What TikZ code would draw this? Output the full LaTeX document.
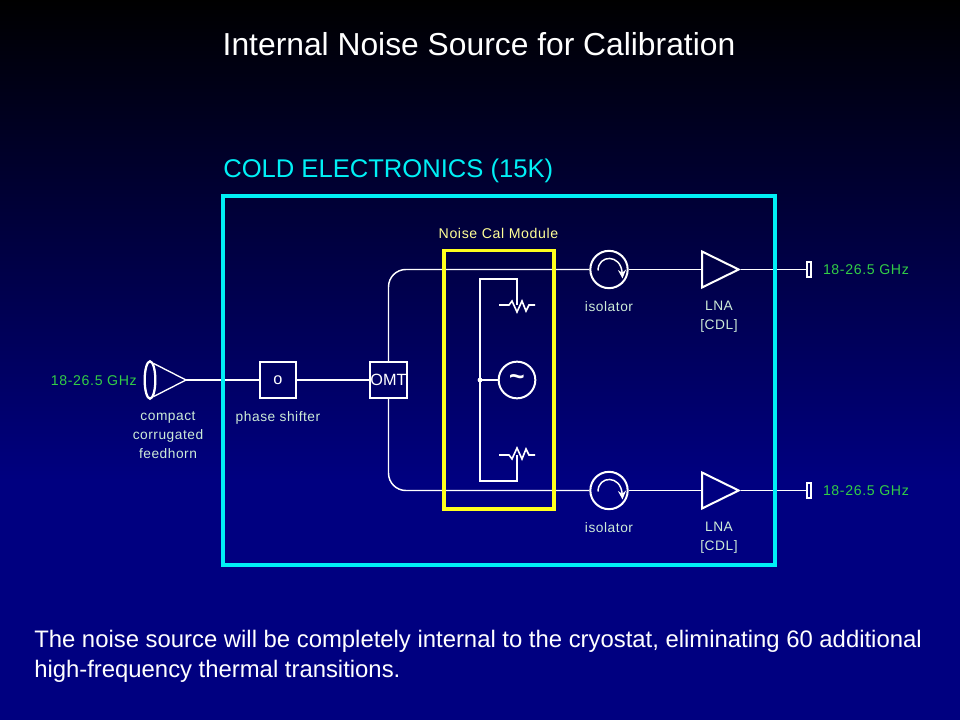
\documentclass[tikz,border=0pt]{standalone}
\usepackage{fontspec}
\setmainfont{Liberation Sans}
\usetikzlibrary{shapes.geometric, positioning, calc, arrows.meta}
\definecolor{navybottom}{RGB}{0,0,128}
\definecolor{coldcyan}{RGB}{0,240,245}
\definecolor{calyellow}{RGB}{255,255,30}
\definecolor{calpale}{RGB}{255,255,150}
\definecolor{bandgreen}{RGB}{50,205,70}
\definecolor{partpale}{RGB}{205,235,215}
\begin{document}
\begin{tikzpicture}[
    x=0.75pt, y=-0.75pt,
    node distance=6pt and 8pt,
    wire/.style={draw=white, line width=1.1pt},
    partbox/.style={draw=white, line width=1.5pt, minimum width=27pt, minimum height=27pt,
      inner sep=0pt, font=\fontsize{12.2}{12}\selectfont, text=white},
    isolatorc/.style={circle, draw=white, line width=1.5pt, minimum size=28pt, inner sep=0pt},
    lna/.style={isosceles triangle, isosceles triangle stretches=true, draw=white, line width=1.5pt,
      minimum width=27pt, minimum height=27.5pt, inner sep=0pt, anchor=west},
    portbox/.style={draw=white, line width=1.5pt, minimum width=3.5pt, minimum height=11.5pt, inner sep=0pt},
    partlabel/.style={align=center, text=partpale, inner sep=0pt,
      font=\fontsize{10.3}{14.2}\selectfont\addfontfeatures{LetterSpace=3.9}},
    bandlabel/.style={text=bandgreen, inner sep=0pt, font=\fontsize{10.6}{13}\selectfont\addfontfeatures{LetterSpace=4.5}},
    isolatorarc/.pic={
      \draw[white, line width=1.1pt, -{Stealth[length=6.5pt,width=6pt]}] (-11,1) .. controls (-11,-15) and (12,-16) .. (13.5,9);
    },
    resistorzig/.pic={
      \draw[white, line width=1.2pt] (-18,0) -- (-8,0) -- (-5,-4) -- (0,7) -- (5,-4) -- (9,6) -- (12,0) -- (18,0);
    }
]
\shade[top color=black, bottom color=navybottom] (0,0) rectangle (960,480);
\fill[navybottom] (0,479) rectangle (960,720);
\useasboundingbox (0,0) rectangle (960,720);

\node[text=white, font=\fontsize{23.85}{26}\selectfont, inner sep=0pt] (title) at (479,44) {Internal Noise Source for Calibration};
\node[text=coldcyan, font=\fontsize{19.2}{22}\selectfont, inner sep=0pt, anchor=west] (coldtitle) at (223,171) {COLD ELECTRONICS (15K)};
\node[text=white, font=\fontsize{17.9}{22.5}\selectfont, inner sep=0pt, anchor=north west, align=left] (notes) at (34,630)
  {The noise source will be completely internal to the cryostat, eliminating 60 additional\\high-frequency thermal transitions.};

% parts on the signal path
\node[partbox] (shifter) at (278,380) {o};
\node[partbox] (omt) at (388.5,380) {OMT};
\node[isolatorc] (isoA) at (609,269.5) {};
\node[isolatorc] (isoB) at (609,490.5) {};
\node[lna] (lnaA) at (701,269.5) {};
\node[lna] (lnaB) at (701,490.5) {};
\node[portbox] (portA) at (809,269.5) {};
\node[portbox] (portB) at (809,490.5) {};
\pic at (isoA) {isolatorarc};
\pic at (isoB) {isolatorarc};

% feedhorn
\node[ellipse, draw=white, line width=1.7pt, minimum width=8pt, minimum height=28pt, inner sep=0pt] (hornmouth) at (150,380) {};
\coordinate (horntip) at (186,380);
\draw[white, line width=1pt] (hornmouth.78) -- (horntip) -- (hornmouth.-78);

% cal module
\node[circle, draw=white, line width=1.5pt, minimum size=27.5pt, inner sep=0pt, text=white,
  font=\bfseries\fontsize{20}{20}\selectfont] (noise) at (517,380) {\raisebox{-3.5pt}{\textasciitilde}};
\coordinate (junction) at (480,380);
\coordinate (resA) at (517,305);
\coordinate (resB) at (517,455);
\pic at (resA) {resistorzig};
\pic[yscale=-1] at (resB) {resistorzig};
\draw[wire, line width=1.3pt] (resA) |- (480,279) -- (480,481) -| (resB);
\draw[wire, line width=1.3pt] (junction) -- (noise);
\fill[white] (junction) circle (2.4);

\draw[wire] (horntip) -- (shifter);
\draw[wire] (shifter) -- (omt);
\draw[wire, rounded corners=13pt] (omt.north) |- (isoA.west);
\draw[wire, rounded corners=13pt] (omt.south) |- (isoB.west);
\draw[wire] (isoA) -- (lnaA.west);
\draw[wire] (isoB) -- (lnaB.west);
\draw[wire] (lnaA.east) -- (portA);
\draw[wire] (lnaB.east) -- (portB);

\draw[calyellow, line width=2.6pt] (444,250.5) rectangle (554,509);
\draw[coldcyan, line width=2.8pt] (223,196) rectangle (775,565);

% labels
\node[text=calpale, inner sep=0pt, font=\fontsize{10.6}{13}\selectfont\addfontfeatures{LetterSpace=4.4}] (callabel) at (498.5,233) {Noise Cal Module};
\node[bandlabel, anchor=east] (bandhorn) at (137,380.5) {18-26.5 GHz};
\node[bandlabel, right=7.8pt of portA] (bandA) {18-26.5 GHz};
\node[bandlabel, right=7.8pt of portB] (bandB) {18-26.5 GHz};
\node[partlabel, anchor=north] (hornlabel) at (168,411) {compact\\corrugated\\feedhorn};
\node[partlabel, anchor=north] (shifterlabel) at (278,411) {phase shifter};
\node[partlabel, anchor=north] (isoAlabel) at (609,301) {isolator};
\node[partlabel, anchor=north] (isoBlabel) at (609,522) {isolator};
\node[partlabel, anchor=north] (lnaAlabel) at (719,301) {LNA\\{[CDL]}};
\node[partlabel, anchor=north] (lnaBlabel) at (719,522) {LNA\\{[CDL]}};
\end{tikzpicture}
\end{document}
